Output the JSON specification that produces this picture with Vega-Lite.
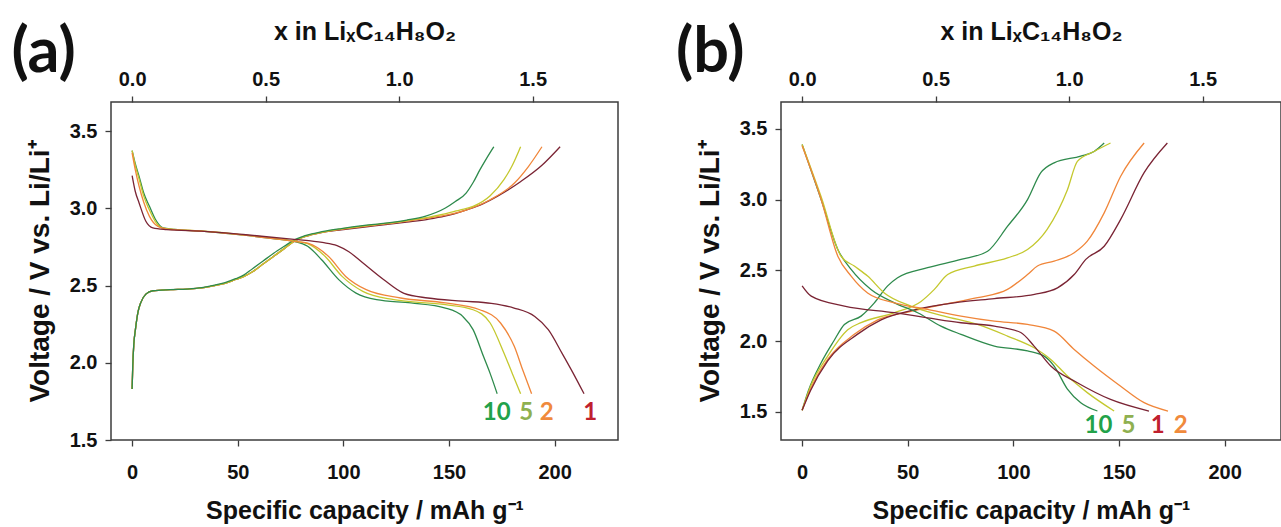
{
  "$schema": "https://vega.github.io/schema/vega-lite/v6.json",
  "background": "white",
  "padding": {"left": 10, "top": 18, "right": 0, "bottom": 0},
  "spacing": 163,
  "bounds": "flush",
  "config": {
    "view": {"stroke": "#3c3c3c", "strokeWidth": 1.5},
    "axis": {"domain": false, "grid": false, "tickSize": 6, "tickColor": "#3c3c3c", "tickWidth": 1.3, "labelFlush": false, "labelFont": "Liberation Sans", "labelFontSize": 20, "labelFontWeight": "bold", "labelColor": "#111", "titleFont": "Liberation Sans", "titleFontSize": 25, "titleFontWeight": "bold", "titleColor": "#111"},
    "axisBottom": {"labelPadding": 16, "titlePadding": 16},
    "axisTop": {"labelPadding": 7, "titlePadding": 25, "titleFontSize": 25},
    "axisLeft": {"labelPadding": 8, "titlePadding": 15, "titleFontSize": 28}
  },
  "datasets": {
    "lines": [
      {"p":"a","c":"1","s":"c","q":0,"v":1.83},{"p":"a","c":"1","s":"c","q":0.3,"v":1.98},{"p":"a","c":"1","s":"c","q":0.8,"v":2.12},{"p":"a","c":"1","s":"c","q":1.6,"v":2.22},{"p":"a","c":"1","s":"c","q":2.8,"v":2.33},{"p":"a","c":"1","s":"c","q":4.1,"v":2.39},{"p":"a","c":"1","s":"c","q":6.5,"v":2.445},{"p":"a","c":"1","s":"c","q":9.8,"v":2.467},{"p":"a","c":"1","s":"c","q":18,"v":2.474},{"p":"a","c":"1","s":"c","q":26,"v":2.478},{"p":"a","c":"1","s":"c","q":33,"v":2.485},{"p":"a","c":"1","s":"c","q":39,"v":2.5},{"p":"a","c":"1","s":"c","q":44,"v":2.515},{"p":"a","c":"1","s":"c","q":49,"v":2.54},{"p":"a","c":"1","s":"c","q":53,"v":2.56},{"p":"a","c":"1","s":"c","q":57,"v":2.59},{"p":"a","c":"1","s":"c","q":62,"v":2.64},{"p":"a","c":"1","s":"c","q":67,"v":2.69},{"p":"a","c":"1","s":"c","q":72,"v":2.74},{"p":"a","c":"1","s":"c","q":76.6,"v":2.787},{"p":"a","c":"1","s":"c","q":80,"v":2.81},{"p":"a","c":"1","s":"c","q":85,"v":2.83},{"p":"a","c":"1","s":"c","q":92,"v":2.85},{"p":"a","c":"1","s":"c","q":99,"v":2.862},{"p":"a","c":"1","s":"c","q":110,"v":2.88},{"p":"a","c":"1","s":"c","q":120,"v":2.895},{"p":"a","c":"1","s":"c","q":130,"v":2.912},{"p":"a","c":"1","s":"c","q":140,"v":2.93},{"p":"a","c":"1","s":"c","q":148,"v":2.95},{"p":"a","c":"1","s":"c","q":158,"v":2.99},{"p":"a","c":"1","s":"c","q":166,"v":3.03},{"p":"a","c":"1","s":"c","q":173,"v":3.08},{"p":"a","c":"1","s":"c","q":184,"v":3.175},{"p":"a","c":"1","s":"c","q":194,"v":3.28},{"p":"a","c":"1","s":"c","q":202.6,"v":3.4},
      {"p":"a","c":"2","s":"c","q":0,"v":1.83},{"p":"a","c":"2","s":"c","q":0.3,"v":1.98},{"p":"a","c":"2","s":"c","q":0.8,"v":2.12},{"p":"a","c":"2","s":"c","q":1.6,"v":2.22},{"p":"a","c":"2","s":"c","q":2.8,"v":2.33},{"p":"a","c":"2","s":"c","q":4.1,"v":2.39},{"p":"a","c":"2","s":"c","q":6.5,"v":2.445},{"p":"a","c":"2","s":"c","q":9.8,"v":2.467},{"p":"a","c":"2","s":"c","q":18,"v":2.474},{"p":"a","c":"2","s":"c","q":26,"v":2.478},{"p":"a","c":"2","s":"c","q":33,"v":2.485},{"p":"a","c":"2","s":"c","q":39,"v":2.5},{"p":"a","c":"2","s":"c","q":44,"v":2.515},{"p":"a","c":"2","s":"c","q":49,"v":2.54},{"p":"a","c":"2","s":"c","q":53,"v":2.56},{"p":"a","c":"2","s":"c","q":57,"v":2.59},{"p":"a","c":"2","s":"c","q":62,"v":2.64},{"p":"a","c":"2","s":"c","q":67,"v":2.69},{"p":"a","c":"2","s":"c","q":72,"v":2.74},{"p":"a","c":"2","s":"c","q":76.6,"v":2.787},{"p":"a","c":"2","s":"c","q":80,"v":2.81},{"p":"a","c":"2","s":"c","q":85,"v":2.83},{"p":"a","c":"2","s":"c","q":92,"v":2.85},{"p":"a","c":"2","s":"c","q":99,"v":2.865},{"p":"a","c":"2","s":"c","q":110,"v":2.885},{"p":"a","c":"2","s":"c","q":120,"v":2.9},{"p":"a","c":"2","s":"c","q":130,"v":2.918},{"p":"a","c":"2","s":"c","q":140,"v":2.937},{"p":"a","c":"2","s":"c","q":148,"v":2.955},{"p":"a","c":"2","s":"c","q":158,"v":2.99},{"p":"a","c":"2","s":"c","q":169.5,"v":3.057},{"p":"a","c":"2","s":"c","q":181,"v":3.165},{"p":"a","c":"2","s":"c","q":187.5,"v":3.27},{"p":"a","c":"2","s":"c","q":194,"v":3.4},
      {"p":"a","c":"5","s":"c","q":0,"v":1.83},{"p":"a","c":"5","s":"c","q":0.3,"v":1.98},{"p":"a","c":"5","s":"c","q":0.8,"v":2.12},{"p":"a","c":"5","s":"c","q":1.6,"v":2.22},{"p":"a","c":"5","s":"c","q":2.8,"v":2.33},{"p":"a","c":"5","s":"c","q":4.1,"v":2.39},{"p":"a","c":"5","s":"c","q":6.5,"v":2.445},{"p":"a","c":"5","s":"c","q":9.8,"v":2.467},{"p":"a","c":"5","s":"c","q":18,"v":2.474},{"p":"a","c":"5","s":"c","q":26,"v":2.478},{"p":"a","c":"5","s":"c","q":33,"v":2.485},{"p":"a","c":"5","s":"c","q":39,"v":2.5},{"p":"a","c":"5","s":"c","q":44,"v":2.515},{"p":"a","c":"5","s":"c","q":49,"v":2.54},{"p":"a","c":"5","s":"c","q":53,"v":2.56},{"p":"a","c":"5","s":"c","q":57,"v":2.59},{"p":"a","c":"5","s":"c","q":62,"v":2.64},{"p":"a","c":"5","s":"c","q":67,"v":2.69},{"p":"a","c":"5","s":"c","q":72,"v":2.74},{"p":"a","c":"5","s":"c","q":76.6,"v":2.787},{"p":"a","c":"5","s":"c","q":80,"v":2.81},{"p":"a","c":"5","s":"c","q":85,"v":2.832},{"p":"a","c":"5","s":"c","q":92,"v":2.852},{"p":"a","c":"5","s":"c","q":99,"v":2.868},{"p":"a","c":"5","s":"c","q":110,"v":2.887},{"p":"a","c":"5","s":"c","q":120,"v":2.903},{"p":"a","c":"5","s":"c","q":130,"v":2.922},{"p":"a","c":"5","s":"c","q":140,"v":2.943},{"p":"a","c":"5","s":"c","q":148,"v":2.965},{"p":"a","c":"5","s":"c","q":155,"v":2.99},{"p":"a","c":"5","s":"c","q":161.4,"v":3.014},{"p":"a","c":"5","s":"c","q":169.5,"v":3.083},{"p":"a","c":"5","s":"c","q":176,"v":3.187},{"p":"a","c":"5","s":"c","q":180,"v":3.28},{"p":"a","c":"5","s":"c","q":183.9,"v":3.4},
      {"p":"a","c":"10","s":"c","q":0,"v":1.83},{"p":"a","c":"10","s":"c","q":0.3,"v":1.98},{"p":"a","c":"10","s":"c","q":0.8,"v":2.12},{"p":"a","c":"10","s":"c","q":1.6,"v":2.22},{"p":"a","c":"10","s":"c","q":2.8,"v":2.33},{"p":"a","c":"10","s":"c","q":4.1,"v":2.39},{"p":"a","c":"10","s":"c","q":6.5,"v":2.445},{"p":"a","c":"10","s":"c","q":9.8,"v":2.467},{"p":"a","c":"10","s":"c","q":18,"v":2.474},{"p":"a","c":"10","s":"c","q":26,"v":2.478},{"p":"a","c":"10","s":"c","q":33,"v":2.487},{"p":"a","c":"10","s":"c","q":39,"v":2.503},{"p":"a","c":"10","s":"c","q":44,"v":2.52},{"p":"a","c":"10","s":"c","q":49,"v":2.545},{"p":"a","c":"10","s":"c","q":53,"v":2.57},{"p":"a","c":"10","s":"c","q":57,"v":2.61},{"p":"a","c":"10","s":"c","q":62,"v":2.66},{"p":"a","c":"10","s":"c","q":67,"v":2.71},{"p":"a","c":"10","s":"c","q":72,"v":2.755},{"p":"a","c":"10","s":"c","q":76.6,"v":2.795},{"p":"a","c":"10","s":"c","q":80,"v":2.815},{"p":"a","c":"10","s":"c","q":85,"v":2.835},{"p":"a","c":"10","s":"c","q":92,"v":2.855},{"p":"a","c":"10","s":"c","q":99,"v":2.87},{"p":"a","c":"10","s":"c","q":110,"v":2.89},{"p":"a","c":"10","s":"c","q":120,"v":2.905},{"p":"a","c":"10","s":"c","q":130,"v":2.925},{"p":"a","c":"10","s":"c","q":138.6,"v":2.949},{"p":"a","c":"10","s":"c","q":148.3,"v":3.003},{"p":"a","c":"10","s":"c","q":153,"v":3.045},{"p":"a","c":"10","s":"c","q":158.1,"v":3.1},{"p":"a","c":"10","s":"c","q":161.5,"v":3.17},{"p":"a","c":"10","s":"c","q":164.6,"v":3.25},{"p":"a","c":"10","s":"c","q":168,"v":3.33},{"p":"a","c":"10","s":"c","q":171.2,"v":3.4},
      {"p":"a","c":"10","s":"d","q":0,"v":3.375},{"p":"a","c":"10","s":"d","q":1.5,"v":3.29},{"p":"a","c":"10","s":"d","q":3.3,"v":3.208},{"p":"a","c":"10","s":"d","q":5.5,"v":3.1},{"p":"a","c":"10","s":"d","q":8.2,"v":3.014},{"p":"a","c":"10","s":"d","q":11,"v":2.93},{"p":"a","c":"10","s":"d","q":14.7,"v":2.874},{"p":"a","c":"10","s":"d","q":20,"v":2.865},{"p":"a","c":"10","s":"d","q":34.2,"v":2.852},{"p":"a","c":"10","s":"d","q":53.8,"v":2.826},{"p":"a","c":"10","s":"d","q":70,"v":2.8},{"p":"a","c":"10","s":"d","q":76.6,"v":2.787},{"p":"a","c":"10","s":"d","q":83.1,"v":2.755},{"p":"a","c":"10","s":"d","q":89.7,"v":2.668},{"p":"a","c":"10","s":"d","q":97.8,"v":2.539},{"p":"a","c":"10","s":"d","q":106,"v":2.452},{"p":"a","c":"10","s":"d","q":115.7,"v":2.409},{"p":"a","c":"10","s":"d","q":132,"v":2.388},{"p":"a","c":"10","s":"d","q":148.3,"v":2.355},{"p":"a","c":"10","s":"d","q":156.5,"v":2.301},{"p":"a","c":"10","s":"d","q":161.4,"v":2.215},{"p":"a","c":"10","s":"d","q":166.3,"v":2.042},{"p":"a","c":"10","s":"d","q":169.5,"v":1.93},{"p":"a","c":"10","s":"d","q":172.8,"v":1.8},
      {"p":"a","c":"5","s":"d","q":0,"v":3.375},{"p":"a","c":"5","s":"d","q":1.5,"v":3.28},{"p":"a","c":"5","s":"d","q":3.3,"v":3.19},{"p":"a","c":"5","s":"d","q":5.5,"v":3.08},{"p":"a","c":"5","s":"d","q":8.2,"v":2.99},{"p":"a","c":"5","s":"d","q":11,"v":2.915},{"p":"a","c":"5","s":"d","q":14.7,"v":2.872},{"p":"a","c":"5","s":"d","q":20,"v":2.865},{"p":"a","c":"5","s":"d","q":34.2,"v":2.853},{"p":"a","c":"5","s":"d","q":53.8,"v":2.828},{"p":"a","c":"5","s":"d","q":70,"v":2.802},{"p":"a","c":"5","s":"d","q":76.6,"v":2.789},{"p":"a","c":"5","s":"d","q":83.1,"v":2.772},{"p":"a","c":"5","s":"d","q":91.3,"v":2.69},{"p":"a","c":"5","s":"d","q":99.4,"v":2.56},{"p":"a","c":"5","s":"d","q":109.2,"v":2.463},{"p":"a","c":"5","s":"d","q":123.9,"v":2.409},{"p":"a","c":"5","s":"d","q":148.3,"v":2.377},{"p":"a","c":"5","s":"d","q":161.4,"v":2.344},{"p":"a","c":"5","s":"d","q":169.5,"v":2.258},{"p":"a","c":"5","s":"d","q":176,"v":2.064},{"p":"a","c":"5","s":"d","q":180,"v":1.93},{"p":"a","c":"5","s":"d","q":183.9,"v":1.8},
      {"p":"a","c":"2","s":"d","q":0,"v":3.36},{"p":"a","c":"2","s":"d","q":1.5,"v":3.25},{"p":"a","c":"2","s":"d","q":3.3,"v":3.144},{"p":"a","c":"2","s":"d","q":5.5,"v":3.04},{"p":"a","c":"2","s":"d","q":8.2,"v":2.949},{"p":"a","c":"2","s":"d","q":12.2,"v":2.884},{"p":"a","c":"2","s":"d","q":16.3,"v":2.867},{"p":"a","c":"2","s":"d","q":20,"v":2.863},{"p":"a","c":"2","s":"d","q":34.2,"v":2.852},{"p":"a","c":"2","s":"d","q":53.8,"v":2.826},{"p":"a","c":"2","s":"d","q":70,"v":2.8},{"p":"a","c":"2","s":"d","q":76.6,"v":2.787},{"p":"a","c":"2","s":"d","q":83.1,"v":2.775},{"p":"a","c":"2","s":"d","q":92.9,"v":2.69},{"p":"a","c":"2","s":"d","q":101.1,"v":2.56},{"p":"a","c":"2","s":"d","q":110.8,"v":2.474},{"p":"a","c":"2","s":"d","q":127.1,"v":2.42},{"p":"a","c":"2","s":"d","q":148.3,"v":2.388},{"p":"a","c":"2","s":"d","q":164.6,"v":2.344},{"p":"a","c":"2","s":"d","q":174.4,"v":2.258},{"p":"a","c":"2","s":"d","q":180.9,"v":2.107},{"p":"a","c":"2","s":"d","q":185,"v":1.95},{"p":"a","c":"2","s":"d","q":189.1,"v":1.8},
      {"p":"a","c":"1","s":"d","q":0,"v":3.213},{"p":"a","c":"1","s":"d","q":1.5,"v":3.11},{"p":"a","c":"1","s":"d","q":3.3,"v":3.036},{"p":"a","c":"1","s":"d","q":6.5,"v":2.917},{"p":"a","c":"1","s":"d","q":9.8,"v":2.874},{"p":"a","c":"1","s":"d","q":16.3,"v":2.863},{"p":"a","c":"1","s":"d","q":34.2,"v":2.852},{"p":"a","c":"1","s":"d","q":53.8,"v":2.83},{"p":"a","c":"1","s":"d","q":76.6,"v":2.8},{"p":"a","c":"1","s":"d","q":90,"v":2.78},{"p":"a","c":"1","s":"d","q":97,"v":2.76},{"p":"a","c":"1","s":"d","q":102.6,"v":2.72},{"p":"a","c":"1","s":"d","q":109,"v":2.65},{"p":"a","c":"1","s":"d","q":119,"v":2.54},{"p":"a","c":"1","s":"d","q":128.7,"v":2.45},{"p":"a","c":"1","s":"d","q":140,"v":2.42},{"p":"a","c":"1","s":"d","q":156.4,"v":2.4},{"p":"a","c":"1","s":"d","q":170,"v":2.385},{"p":"a","c":"1","s":"d","q":180.8,"v":2.355},{"p":"a","c":"1","s":"d","q":190.6,"v":2.3},{"p":"a","c":"1","s":"d","q":197,"v":2.215},{"p":"a","c":"1","s":"d","q":203.6,"v":2.06},{"p":"a","c":"1","s":"d","q":208.5,"v":1.94},{"p":"a","c":"1","s":"d","q":213.9,"v":1.8},
      {"p":"b","c":"10","s":"c","q":0,"v":1.51},{"p":"b","c":"10","s":"c","q":3,"v":1.65},{"p":"b","c":"10","s":"c","q":9,"v":1.846},{"p":"b","c":"10","s":"c","q":15,"v":2.0},{"p":"b","c":"10","s":"c","q":20,"v":2.117},{"p":"b","c":"10","s":"c","q":27.9,"v":2.176},{"p":"b","c":"10","s":"c","q":34.2,"v":2.27},{"p":"b","c":"10","s":"c","q":40.5,"v":2.39},{"p":"b","c":"10","s":"c","q":45.2,"v":2.447},{"p":"b","c":"10","s":"c","q":59.4,"v":2.518},{"p":"b","c":"10","s":"c","q":75.2,"v":2.577},{"p":"b","c":"10","s":"c","q":87.8,"v":2.635},{"p":"b","c":"10","s":"c","q":97.2,"v":2.81},{"p":"b","c":"10","s":"c","q":106.7,"v":3.0},{"p":"b","c":"10","s":"c","q":113,"v":3.19},{"p":"b","c":"10","s":"c","q":119.3,"v":3.26},{"p":"b","c":"10","s":"c","q":131.9,"v":3.307},{"p":"b","c":"10","s":"c","q":138.2,"v":3.34},{"p":"b","c":"10","s":"c","q":143,"v":3.4},
      {"p":"b","c":"5","s":"c","q":0,"v":1.51},{"p":"b","c":"5","s":"c","q":4,"v":1.68},{"p":"b","c":"5","s":"c","q":12.1,"v":1.893},{"p":"b","c":"5","s":"c","q":21.6,"v":2.08},{"p":"b","c":"5","s":"c","q":27.9,"v":2.13},{"p":"b","c":"5","s":"c","q":43.7,"v":2.2},{"p":"b","c":"5","s":"c","q":56.3,"v":2.28},{"p":"b","c":"5","s":"c","q":62.6,"v":2.365},{"p":"b","c":"5","s":"c","q":68.9,"v":2.47},{"p":"b","c":"5","s":"c","q":81.5,"v":2.53},{"p":"b","c":"5","s":"c","q":97.2,"v":2.588},{"p":"b","c":"5","s":"c","q":106.7,"v":2.647},{"p":"b","c":"5","s":"c","q":116,"v":2.79},{"p":"b","c":"5","s":"c","q":125.6,"v":3.07},{"p":"b","c":"5","s":"c","q":130.3,"v":3.27},{"p":"b","c":"5","s":"c","q":138.2,"v":3.34},{"p":"b","c":"5","s":"c","q":146,"v":3.4},
      {"p":"b","c":"2","s":"c","q":0,"v":1.51},{"p":"b","c":"2","s":"c","q":4,"v":1.66},{"p":"b","c":"2","s":"c","q":12.1,"v":1.87},{"p":"b","c":"2","s":"c","q":24.7,"v":2.047},{"p":"b","c":"2","s":"c","q":35.8,"v":2.15},{"p":"b","c":"2","s":"c","q":51.5,"v":2.21},{"p":"b","c":"2","s":"c","q":67.3,"v":2.26},{"p":"b","c":"2","s":"c","q":83,"v":2.306},{"p":"b","c":"2","s":"c","q":97.2,"v":2.365},{"p":"b","c":"2","s":"c","q":106.7,"v":2.47},{"p":"b","c":"2","s":"c","q":111.4,"v":2.53},{"p":"b","c":"2","s":"c","q":119.3,"v":2.565},{"p":"b","c":"2","s":"c","q":128.8,"v":2.624},{"p":"b","c":"2","s":"c","q":135,"v":2.706},{"p":"b","c":"2","s":"c","q":143,"v":2.906},{"p":"b","c":"2","s":"c","q":150.8,"v":3.165},{"p":"b","c":"2","s":"c","q":161.9,"v":3.4},
      {"p":"b","c":"1","s":"c","q":0,"v":1.51},{"p":"b","c":"1","s":"c","q":4,"v":1.65},{"p":"b","c":"1","s":"c","q":12.1,"v":1.86},{"p":"b","c":"1","s":"c","q":26.1,"v":2.047},{"p":"b","c":"1","s":"c","q":37.4,"v":2.15},{"p":"b","c":"1","s":"c","q":53.1,"v":2.22},{"p":"b","c":"1","s":"c","q":72,"v":2.27},{"p":"b","c":"1","s":"c","q":91,"v":2.3},{"p":"b","c":"1","s":"c","q":110,"v":2.33},{"p":"b","c":"1","s":"c","q":120.9,"v":2.376},{"p":"b","c":"1","s":"c","q":128.8,"v":2.47},{"p":"b","c":"1","s":"c","q":134.3,"v":2.577},{"p":"b","c":"1","s":"c","q":143,"v":2.67},{"p":"b","c":"1","s":"c","q":150.8,"v":2.86},{"p":"b","c":"1","s":"c","q":161.9,"v":3.19},{"p":"b","c":"1","s":"c","q":172.9,"v":3.4},
      {"p":"b","c":"10","s":"d","q":0,"v":3.39},{"p":"b","c":"10","s":"d","q":9,"v":3.0},{"p":"b","c":"10","s":"d","q":16.9,"v":2.647},{"p":"b","c":"10","s":"d","q":23.2,"v":2.506},{"p":"b","c":"10","s":"d","q":32.6,"v":2.364},{"p":"b","c":"10","s":"d","q":43.7,"v":2.27},{"p":"b","c":"10","s":"d","q":54.7,"v":2.2},{"p":"b","c":"10","s":"d","q":65.7,"v":2.105},{"p":"b","c":"10","s":"d","q":75.2,"v":2.047},{"p":"b","c":"10","s":"d","q":91,"v":1.964},{"p":"b","c":"10","s":"d","q":106.7,"v":1.93},{"p":"b","c":"10","s":"d","q":114.6,"v":1.893},{"p":"b","c":"10","s":"d","q":119.3,"v":1.823},{"p":"b","c":"10","s":"d","q":125.6,"v":1.66},{"p":"b","c":"10","s":"d","q":131.9,"v":1.563},{"p":"b","c":"10","s":"d","q":139.8,"v":1.505},
      {"p":"b","c":"5","s":"d","q":0,"v":3.39},{"p":"b","c":"5","s":"d","q":9,"v":3.02},{"p":"b","c":"5","s":"d","q":18.4,"v":2.6},{"p":"b","c":"5","s":"d","q":24.7,"v":2.53},{"p":"b","c":"5","s":"d","q":31,"v":2.459},{"p":"b","c":"5","s":"d","q":38.9,"v":2.34},{"p":"b","c":"5","s":"d","q":51.5,"v":2.247},{"p":"b","c":"5","s":"d","q":67.3,"v":2.176},{"p":"b","c":"5","s":"d","q":83,"v":2.117},{"p":"b","c":"5","s":"d","q":97.2,"v":2.035},{"p":"b","c":"5","s":"d","q":109.8,"v":1.952},{"p":"b","c":"5","s":"d","q":117.7,"v":1.87},{"p":"b","c":"5","s":"d","q":125.6,"v":1.752},{"p":"b","c":"5","s":"d","q":135,"v":1.635},{"p":"b","c":"5","s":"d","q":147.7,"v":1.505},
      {"p":"b","c":"2","s":"d","q":0,"v":3.38},{"p":"b","c":"2","s":"d","q":9,"v":3.0},{"p":"b","c":"2","s":"d","q":16.9,"v":2.6},{"p":"b","c":"2","s":"d","q":23.2,"v":2.459},{"p":"b","c":"2","s":"d","q":31,"v":2.34},{"p":"b","c":"2","s":"d","q":43.7,"v":2.27},{"p":"b","c":"2","s":"d","q":59.4,"v":2.223},{"p":"b","c":"2","s":"d","q":75.2,"v":2.176},{"p":"b","c":"2","s":"d","q":91,"v":2.14},{"p":"b","c":"2","s":"d","q":106.7,"v":2.117},{"p":"b","c":"2","s":"d","q":119.3,"v":2.07},{"p":"b","c":"2","s":"d","q":128.8,"v":1.94},{"p":"b","c":"2","s":"d","q":138.2,"v":1.823},{"p":"b","c":"2","s":"d","q":150.8,"v":1.68},{"p":"b","c":"2","s":"d","q":161.9,"v":1.564},{"p":"b","c":"2","s":"d","q":173.2,"v":1.505},
      {"p":"b","c":"1","s":"d","q":0,"v":2.39},{"p":"b","c":"1","s":"d","q":4.3,"v":2.317},{"p":"b","c":"1","s":"d","q":20,"v":2.247},{"p":"b","c":"1","s":"d","q":43.7,"v":2.2},{"p":"b","c":"1","s":"d","q":59.4,"v":2.164},{"p":"b","c":"1","s":"d","q":75.2,"v":2.129},{"p":"b","c":"1","s":"d","q":91,"v":2.105},{"p":"b","c":"1","s":"d","q":103.5,"v":2.06},{"p":"b","c":"1","s":"d","q":109.8,"v":1.964},{"p":"b","c":"1","s":"d","q":117.7,"v":1.823},{"p":"b","c":"1","s":"d","q":130.3,"v":1.705},{"p":"b","c":"1","s":"d","q":146,"v":1.587},{"p":"b","c":"1","s":"d","q":164.2,"v":1.505}
    ],
    "labels": [
      {"p":"a","c":"10","t":"10","q":172.6,"v":1.673},
      {"p":"a","c":"5","t":"5","q":186.6,"v":1.673},
      {"p":"a","c":"2","t":"2","q":196.3,"v":1.673},
      {"p":"a","c":"1","t":"1","q":216.8,"v":1.673},
      {"p":"b","c":"10","t":"10","q":140.3,"v":1.401},
      {"p":"b","c":"5","t":"5","q":154.5,"v":1.401},
      {"p":"b","c":"1","t":"1","q":168.3,"v":1.401},
      {"p":"b","c":"2","t":"2","q":179.2,"v":1.401}
    ],
    "panels": [
      {"p":"a","t":"(a)","q":-41.9,"v":4.01},
      {"p":"b","t":"(b)","q":-43.5,"v":4.04}
    ]
  },
  "hconcat": [
    {
      "width": 507,
      "height": 338,
      "layer": [
        {
          "data": {"name": "lines"},
          "transform": [{"filter": "datum.p == 'a'"}],
          "mark": {"type": "line", "interpolate": "monotone", "strokeWidth": 1.3},
          "encoding": {
            "x": {"field": "q", "type": "quantitative", "scale": {"domain": [-10, 230], "nice": false, "zero": false}, "axis": {"orient": "bottom", "values": [0, 50, 100, 150, 200], "title": "Specific capacity / mAh g⁻¹"}},
            "y": {"field": "v", "type": "quantitative", "scale": {"domain": [1.5, 3.69], "nice": false, "zero": false}, "axis": {"values": [1.5, 2, 2.5, 3, 3.5], "format": ".1f", "title": "Voltage / V vs. Li/Li⁺"}},
            "color": {"field": "c", "type": "nominal", "scale": {"domain": ["1", "2", "5", "10"], "range": ["#7a2434", "#f0863a", "#c4c82e", "#2e8a4c"]}, "legend": null},
            "detail": {"field": "s"}
          }
        },
        {
          "data": {"name": "labels"},
          "transform": [{"filter": "datum.p == 'a'"}],
          "mark": {"type": "text", "font": "Lato", "fontSize": 24, "fontWeight": "bold", "baseline": "middle", "align": "center"},
          "encoding": {
            "x": {"field": "q", "type": "quantitative", "axis": {"orient": "top", "values": [0, 63.2, 126.4, 189.6], "labelExpr": "format(datum.value / 126.4, '.1f')", "title": "x in LiₓC₁₄H₈O₂"}},
            "y": {"field": "v", "type": "quantitative", "axis": null},
            "text": {"field": "t"},
            "color": {"field": "c", "type": "nominal", "scale": {"domain": ["1", "2", "5", "10"], "range": ["#c0202e", "#f08a3c", "#8fb050", "#22a24a"]}, "legend": null}
          }
        },
        {
          "data": {"name": "panels"},
          "transform": [{"filter": "datum.p == 'a'"}],
          "mark": {"type": "text", "font": "Lato", "fontSize": 63, "fontWeight": "bold", "baseline": "middle", "align": "center", "color": "#111"},
          "encoding": {
            "x": {"field": "q", "type": "quantitative", "axis": null},
            "y": {"field": "v", "type": "quantitative", "axis": null},
            "text": {"field": "t"}
          }
        }
      ],
      "resolve": {"axis": {"x": "independent", "y": "independent"}, "scale": {"color": "independent"}}
    },
    {
      "width": 500,
      "height": 338,
      "layer": [
        {
          "data": {"name": "lines"},
          "transform": [{"filter": "datum.p == 'b'"}],
          "mark": {"type": "line", "interpolate": "monotone", "strokeWidth": 1.3},
          "encoding": {
            "x": {"field": "q", "type": "quantitative", "scale": {"domain": [-10, 226.7], "nice": false, "zero": false}, "axis": {"orient": "bottom", "values": [0, 50, 100, 150, 200], "title": "Specific capacity / mAh g⁻¹"}},
            "y": {"field": "v", "type": "quantitative", "scale": {"domain": [1.3, 3.69], "nice": false, "zero": false}, "axis": {"values": [1.5, 2, 2.5, 3, 3.5], "format": ".1f", "title": "Voltage / V vs. Li/Li⁺"}},
            "color": {"field": "c", "type": "nominal", "scale": {"domain": ["1", "2", "5", "10"], "range": ["#7a2434", "#f0863a", "#c4c82e", "#2e8a4c"]}, "legend": null},
            "detail": {"field": "s"}
          }
        },
        {
          "data": {"name": "labels"},
          "transform": [{"filter": "datum.p == 'b'"}],
          "mark": {"type": "text", "font": "Lato", "fontSize": 24, "fontWeight": "bold", "baseline": "middle", "align": "center"},
          "encoding": {
            "x": {"field": "q", "type": "quantitative", "axis": {"orient": "top", "values": [0, 63.2, 126.4, 189.6], "labelExpr": "format(datum.value / 126.4, '.1f')", "title": "x in LiₓC₁₄H₈O₂"}},
            "y": {"field": "v", "type": "quantitative", "axis": null},
            "text": {"field": "t"},
            "color": {"field": "c", "type": "nominal", "scale": {"domain": ["1", "2", "5", "10"], "range": ["#c0202e", "#f08a3c", "#8fb050", "#22a24a"]}, "legend": null}
          }
        },
        {
          "data": {"name": "panels"},
          "transform": [{"filter": "datum.p == 'b'"}],
          "mark": {"type": "text", "font": "Lato", "fontSize": 63, "fontWeight": "bold", "baseline": "middle", "align": "center", "color": "#111"},
          "encoding": {
            "x": {"field": "q", "type": "quantitative", "axis": null},
            "y": {"field": "v", "type": "quantitative", "axis": null},
            "text": {"field": "t"}
          }
        }
      ],
      "resolve": {"axis": {"x": "independent", "y": "independent"}, "scale": {"color": "independent"}}
    }
  ]
}
